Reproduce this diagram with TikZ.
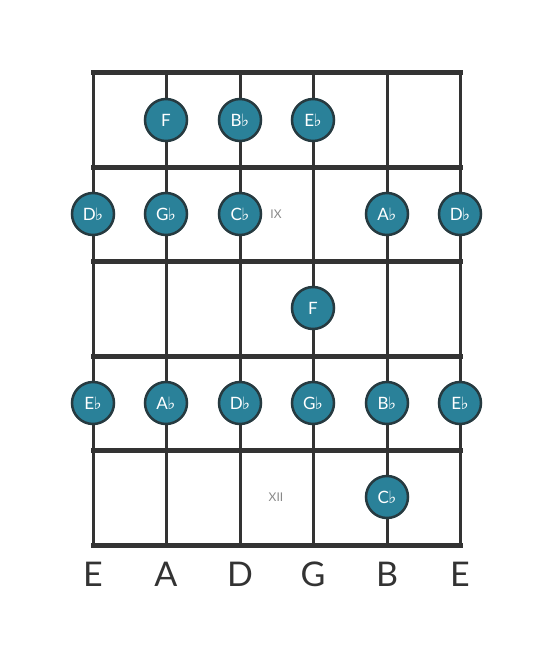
\documentclass[tikz,border=0pt]{standalone}
\usepackage{fontspec}
\setmainfont{Lato}
\newfontfamily\symfont{DejaVu Sans}
\definecolor{ink}{HTML}{333333}
\definecolor{teal}{HTML}{2A8199}
\definecolor{rim}{HTML}{263A40}
\definecolor{gtext}{HTML}{888888}
\newcommand{\fl}{{\symfont\fontsize{17}{17}\selectfont\kern-0.5pt ♭}}
\tikzset{
  fretline/.style={ink, line width=5pt},
  stringline/.style={ink, line width=3pt},
  note/.style={circle, draw=rim, line width=2.5pt, fill=teal, minimum size=42pt, inner sep=0pt, text=white, font=\fontsize{17}{17}\selectfont},
  strname/.style={text=ink, font=\fontsize{34}{34}\selectfont},
  fretnum/.style={text=gtext, font=\fontsize{12}{12}\selectfont}
}
\begin{document}
\begin{tikzpicture}[x=1pt,y=-1pt]
\useasboundingbox (0,0) rectangle (553,656);
% strings
\foreach \s/\x in {1/93,2/166,3/240,4/313,5/387,6/460} {
  \coordinate (st\s) at (\x,72);
  \coordinate (sb\s) at (\x,545);
  \draw[stringline] (st\s) -- (sb\s);
}
% frets
\foreach \f/\y in {0/72,1/167,2/261,3/356,4/450,5/545} {
  \coordinate (fl\f) at (93,\y);
  \coordinate (fr\f) at (460,\y);
  \draw[fretline, line cap=rect] (fl\f) -- (fr\f);
}
% fret numbers
\node[fretnum] (ix) at (276,214) {IX};
\node[fretnum] (xii) at (276,497) {XII};
% notes
\node[note] (n1) at (166,120) {F};
\node[note] (n2) at (240,120) {B\fl};
\node[note] (n3) at (313,120) {E\fl};
\node[note] (n4) at (93,214) {D\fl};
\node[note] (n5) at (166,214) {G\fl};
\node[note] (n6) at (240,214) {C\fl};
\node[note] (n7) at (387,214) {A\fl};
\node[note] (n8) at (460,214) {D\fl};
\node[note] (n9) at (313,308) {F};
\node[note] (n10) at (93,403) {E\fl};
\node[note] (n11) at (166,403) {A\fl};
\node[note] (n12) at (240,403) {D\fl};
\node[note] (n13) at (313,403) {G\fl};
\node[note] (n14) at (387,403) {B\fl};
\node[note] (n15) at (460,403) {E\fl};
\node[note] (n16) at (387,497) {C\fl};
% string names
\node[strname] (l1) at (93,574) {E};
\node[strname] (l2) at (166,574) {A};
\node[strname] (l3) at (240,574) {D};
\node[strname] (l4) at (313,574) {G};
\node[strname] (l5) at (387,574) {B};
\node[strname] (l6) at (460,574) {E};
\end{tikzpicture}
\end{document}
